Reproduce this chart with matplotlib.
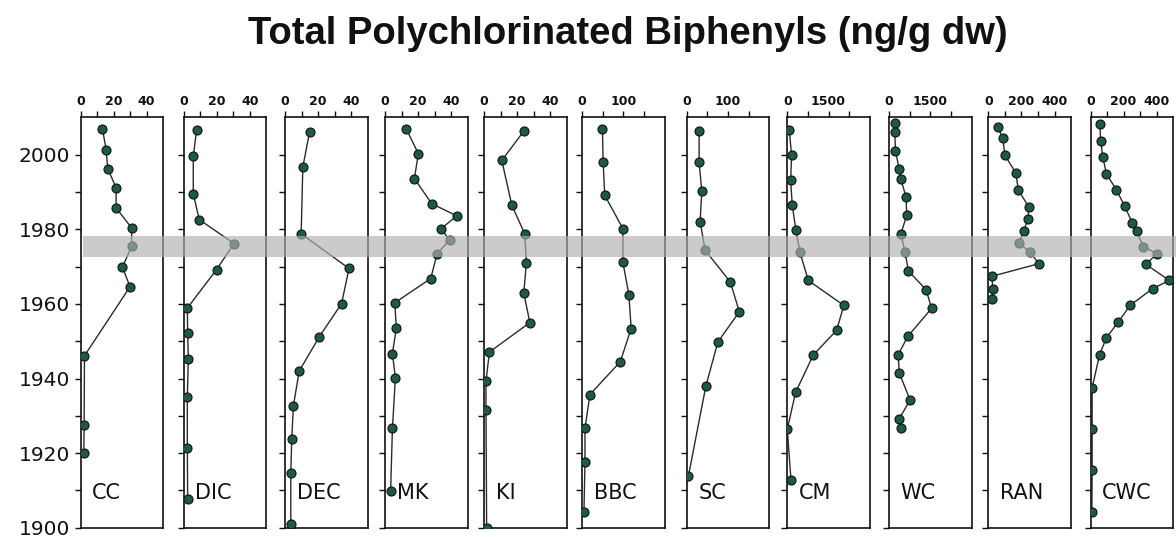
import matplotlib
matplotlib.use("Agg")
import matplotlib.pyplot as plt
from matplotlib.patches import Rectangle
from matplotlib.transforms import blended_transform_factory

# ---- data ----
sites = ["CC", "DIC", "DEC", "MK", "KI", "BBC", "SC", "CM", "WC", "RAN", "CWC"]

cc_year = [2007.0, 2001.4, 1996.3, 1991.1, 1985.7, 1980.4, 1975.4, 1969.9, 1964.6, 1946.1, 1927.5, 1919.9]
cc_val = [13.3, 15.5, 16.5, 21.6, 21.6, 31.0, 31.0, 25.4, 30.0, 2.4, 2.2, 2.0]

dic_year = [2006.5, 1999.6, 1989.6, 1982.6, 1976.2, 1969.2, 1958.9, 1952.1, 1945.2, 1935.1, 1921.4, 1907.7]
dic_val = [7.8, 5.8, 5.8, 9.4, 30.5, 19.9, 2.2, 2.4, 2.8, 2.2, 2.2, 2.4]

dec_year = [2006.1, 1996.7, 1978.8, 1969.5, 1960.1, 1951.2, 1942.0, 1932.7, 1923.8, 1914.6, 1900.9]
dec_val = [14.9, 10.8, 9.8, 38.8, 34.3, 20.8, 8.6, 5.1, 4.1, 3.5, 3.5]

mk_year = [2007.0, 2000.3, 1993.6, 1986.9, 1983.6, 1980.2, 1977.1, 1973.5, 1966.8, 1960.3, 1953.6, 1946.7, 1940.2, 1926.6, 1909.8]
mk_val = [12.8, 20.2, 17.8, 28.3, 43.5, 34.0, 39.1, 31.6, 27.7, 5.9, 6.9, 4.5, 6.3, 4.5, 3.4]

ki_year = [2006.3, 1998.5, 1986.4, 1978.8, 1971.0, 1962.9, 1955.0, 1947.1, 1939.3, 1931.5, 1900.0]
ki_val = [24.1, 10.8, 16.9, 24.7, 25.7, 24.1, 27.8, 3.3, 1.2, 1.2, 1.6]

bbc_year = [2007.0, 1998.0, 1989.1, 1980.2, 1971.2, 1962.5, 1953.4, 1944.5, 1935.7, 1926.6, 1917.7, 1904.3]
bbc_val = [49.6, 51.2, 55.2, 99.2, 99.2, 113.6, 119.2, 92.8, 19.2, 7.2, 7.2, 4.8]

sc_year = [2006.3, 1998.0, 1990.2, 1982.1, 1974.4, 1965.9, 1957.9, 1949.8, 1937.9, 1913.8]
sc_val = [30.1, 30.1, 36.6, 32.5, 44.7, 105.7, 127.6, 75.6, 46.3, 4.1]

cm_year = [2006.5, 1999.8, 1993.1, 1986.4, 1979.7, 1973.9, 1966.3, 1959.6, 1952.9, 1946.3, 1936.3, 1926.4, 1912.9]
cm_val = [73, 157, 121, 181, 315, 460, 762, 2057, 1790, 944, 302, 0, 133]

wc_year = [2008.6, 2006.1, 2001.0, 1996.1, 1993.6, 1988.7, 1983.8, 1978.8, 1973.9, 1968.8, 1963.8, 1958.8,
           1951.3, 1946.4, 1941.5, 1934.2, 1929.1, 1926.6]
wc_val = [211, 211, 236, 372, 422, 620, 645, 434, 583, 707, 1352, 1550, 682, 335, 372, 769, 360, 422]

ran_year = [2007.4, 2004.5, 1999.8, 1995.1, 1990.6, 1986.0, 1982.9, 1979.6, 1976.3, 1973.9, 1970.8, 1967.4, 1964.1, 1961.2]
ran_val = [56, 86, 100, 166, 180, 244, 240, 214, 186, 250, 306, 20, 26, 20]

cwc_year = [2008.3, 2003.8, 1999.4, 1994.9, 1990.6, 1986.2, 1981.7, 1979.5, 1975.3, 1973.5, 1970.6, 1966.3,
            1964.1, 1959.6, 1955.2, 1950.9, 1946.4, 1937.5, 1926.4, 1915.4, 1904.3]
cwc_val = [57, 61, 75, 96, 157, 207, 254, 279, 321, 403, 336, 478, 376, 240, 169, 96, 55, 10, 10, 10, 8]

years = [cc_year, dic_year, dec_year, mk_year, ki_year, bbc_year, sc_year, cm_year, wc_year, ran_year, cwc_year]
values = [cc_val, dic_val, dec_val, mk_val, ki_val, bbc_val, sc_val, cm_val, wc_val, ran_val, cwc_val]

# x scale per site: axis max and tick step (every 2nd tick labelled)
x_max = [50, 50, 50, 50, 50, 200, 200, 3000, 3000, 500, 500]
x_step = [10, 10, 10, 10, 10, 50, 50, 750, 750, 100, 100]

band = (1972.6, 1978.1)   # shaded interval

# ---- layout ----
W, H = 1176, 537
lefts = [80.5, 183.7, 285, 385, 484, 582, 686.7, 787.3, 889, 988.5, 1090.5]
pw = 82.5
ax_bot, ax_top = 527.7, 116.7

fig = plt.figure(figsize=(W / 100, H / 100), dpi=100)
axes = []
for i, s in enumerate(sites):
    ax = fig.add_axes([lefts[i] / W, (H - ax_bot) / H, pw / W, (ax_bot - ax_top) / H])
    ax.plot(values[i], years[i], "-", color="#2b2b2b", lw=1.0, zorder=2)
    ax.plot(values[i], years[i], "o", ms=6.5, mfc="#1c5a45", mec="#111111", mew=0.8, zorder=3)

    ax.set_ylim(1900, 2010.2)
    ax.set_xlim(0, x_max[i])
    xt = list(range(0, x_max[i], x_step[i]))
    ax.set_xticks(xt)
    ax.set_xticklabels([str(v) if k % 2 == 0 else "" for k, v in enumerate(xt)])
    ax.xaxis.tick_top()
    yt = list(range(1900, 2001, 10))
    ax.set_yticks(yt)
    if i == 0:
        ax.set_yticklabels([str(v) if v % 20 == 0 else "" for v in yt])
    else:
        ax.set_yticklabels([])
    ax.tick_params(axis="x", direction="out", length=4, width=1, pad=2, labelsize=9, colors="#111111")
    ax.tick_params(axis="y", direction="out", length=4.5, width=1, pad=3, labelsize=14.5, colors="#111111")
    for t in ax.get_xticklabels():
        t.set_fontweight("bold")
    for sp in ax.spines.values():
        sp.set_linewidth(1.2)
        sp.set_color("#111111")
    ax.text(0.14, 1909.3, s, transform=blended_transform_factory(ax.transAxes, ax.transData),
            fontsize=15, ha="left", va="center", color="#111111")
    axes.append(ax)

# grey band across all panels
tr = blended_transform_factory(fig.transFigure, axes[0].transData)
fig.add_artist(Rectangle((lefts[0] / W + 0.002, band[0]), 1.0, band[1] - band[0], transform=tr,
                         facecolor="#b0b0b0", edgecolor="none", alpha=0.65, zorder=10))

fig.text(628 / W, 1 - 34 / H, "Total Polychlorinated Biphenyls (ng/g dw)", ha="center", va="center",
         fontsize=27.5, fontweight="bold", family="Liberation Sans", color="#111111")

fig.savefig("out.png", dpi=100)
